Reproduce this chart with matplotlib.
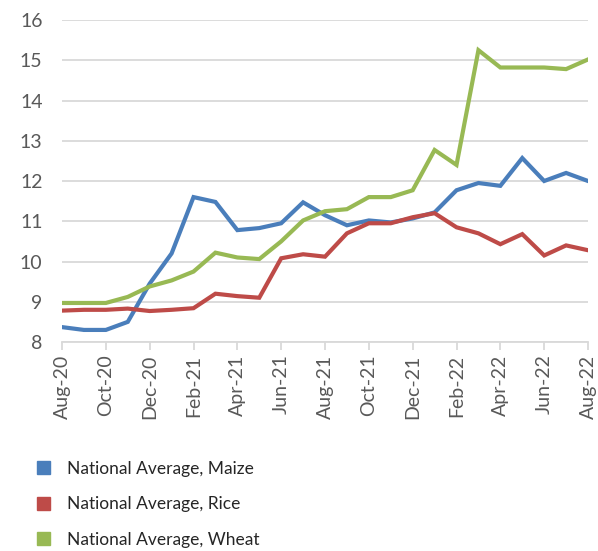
import numpy as np
import matplotlib.pyplot as plt
from matplotlib.patches import Patch

plt.rcParams['font.family'] = ['Lato', 'DejaVu Sans']

months = ['Aug-20', 'Sep-20', 'Oct-20', 'Nov-20', 'Dec-20', 'Jan-21', 'Feb-21',
          'Mar-21', 'Apr-21', 'May-21', 'Jun-21', 'Jul-21', 'Aug-21', 'Sep-21',
          'Oct-21', 'Nov-21', 'Dec-21', 'Jan-22', 'Feb-22', 'Mar-22', 'Apr-22',
          'May-22', 'Jun-22', 'Jul-22', 'Aug-22']

maize = [8.37, 8.3, 8.3, 8.5, 9.45, 10.2, 11.6, 11.48, 10.78, 10.83, 10.95,
         11.47, 11.15, 10.9, 11.02, 10.97, 11.07, 11.22, 11.77, 11.95, 11.88,
         12.57, 12.0, 12.2, 12.0]
rice = [8.78, 8.8, 8.8, 8.83, 8.77, 8.8, 8.84, 9.2, 9.14, 9.1, 10.08, 10.18,
        10.12, 10.7, 10.95, 10.95, 11.1, 11.2, 10.85, 10.7, 10.43, 10.68,
        10.15, 10.4, 10.28]
wheat = [8.97, 8.97, 8.97, 9.12, 9.38, 9.53, 9.75, 10.22, 10.1, 10.06, 10.5,
         11.02, 11.25, 11.3, 11.6, 11.6, 11.77, 12.77, 12.4, 15.25, 14.82,
         14.82, 14.82, 14.78, 15.02]

series_names = ['National Average, Maize', 'National Average, Rice',
                'National Average, Wheat']
colors = ['#4a7ebb', '#be4b48', '#98b954']

fig = plt.figure(figsize=(5.98, 5.51), dpi=100)
ax = fig.add_axes([0.1037, 0.3793, 0.8796, 0.5844])

x = np.arange(len(months))
for vals, c in zip([maize, rice, wheat], colors):
    ax.plot(x, vals, color=c, linewidth=3.0, solid_joinstyle='miter', zorder=3)

ax.set_xlim(0, len(months) - 1)
ax.set_ylim(8, 16)
ax.set_yticks(range(8, 17))
ax.set_xticks(x[::2])
ax.set_xticklabels(months[::2], rotation=90)

ax.grid(axis='y', color='#d9d9d9', linewidth=1.3)
ax.set_axisbelow(True)
for s in ['left', 'right', 'top']:
    ax.spines[s].set_visible(False)
ax.spines['bottom'].set_color('#d9d9d9')
ax.spines['bottom'].set_linewidth(1.3)
ax.tick_params(axis='y', length=0, pad=14, labelsize=14, labelcolor='#595959')
ax.tick_params(axis='x', length=6, width=1.3, color='#d9d9d9', labelsize=14,
               labelcolor='#595959', pad=3)

handles = [Patch(color=c, label=n) for c, n in zip(colors, series_names)]
fig.legend(handles=handles, loc='upper left', bbox_to_anchor=(0.035, 0.192),
           frameon=False, fontsize=12.5, labelcolor='#262626', handlelength=0.75,
           handleheight=0.75, handletextpad=1.0, labelspacing=1.12)

fig.savefig('out.png', dpi=100)
